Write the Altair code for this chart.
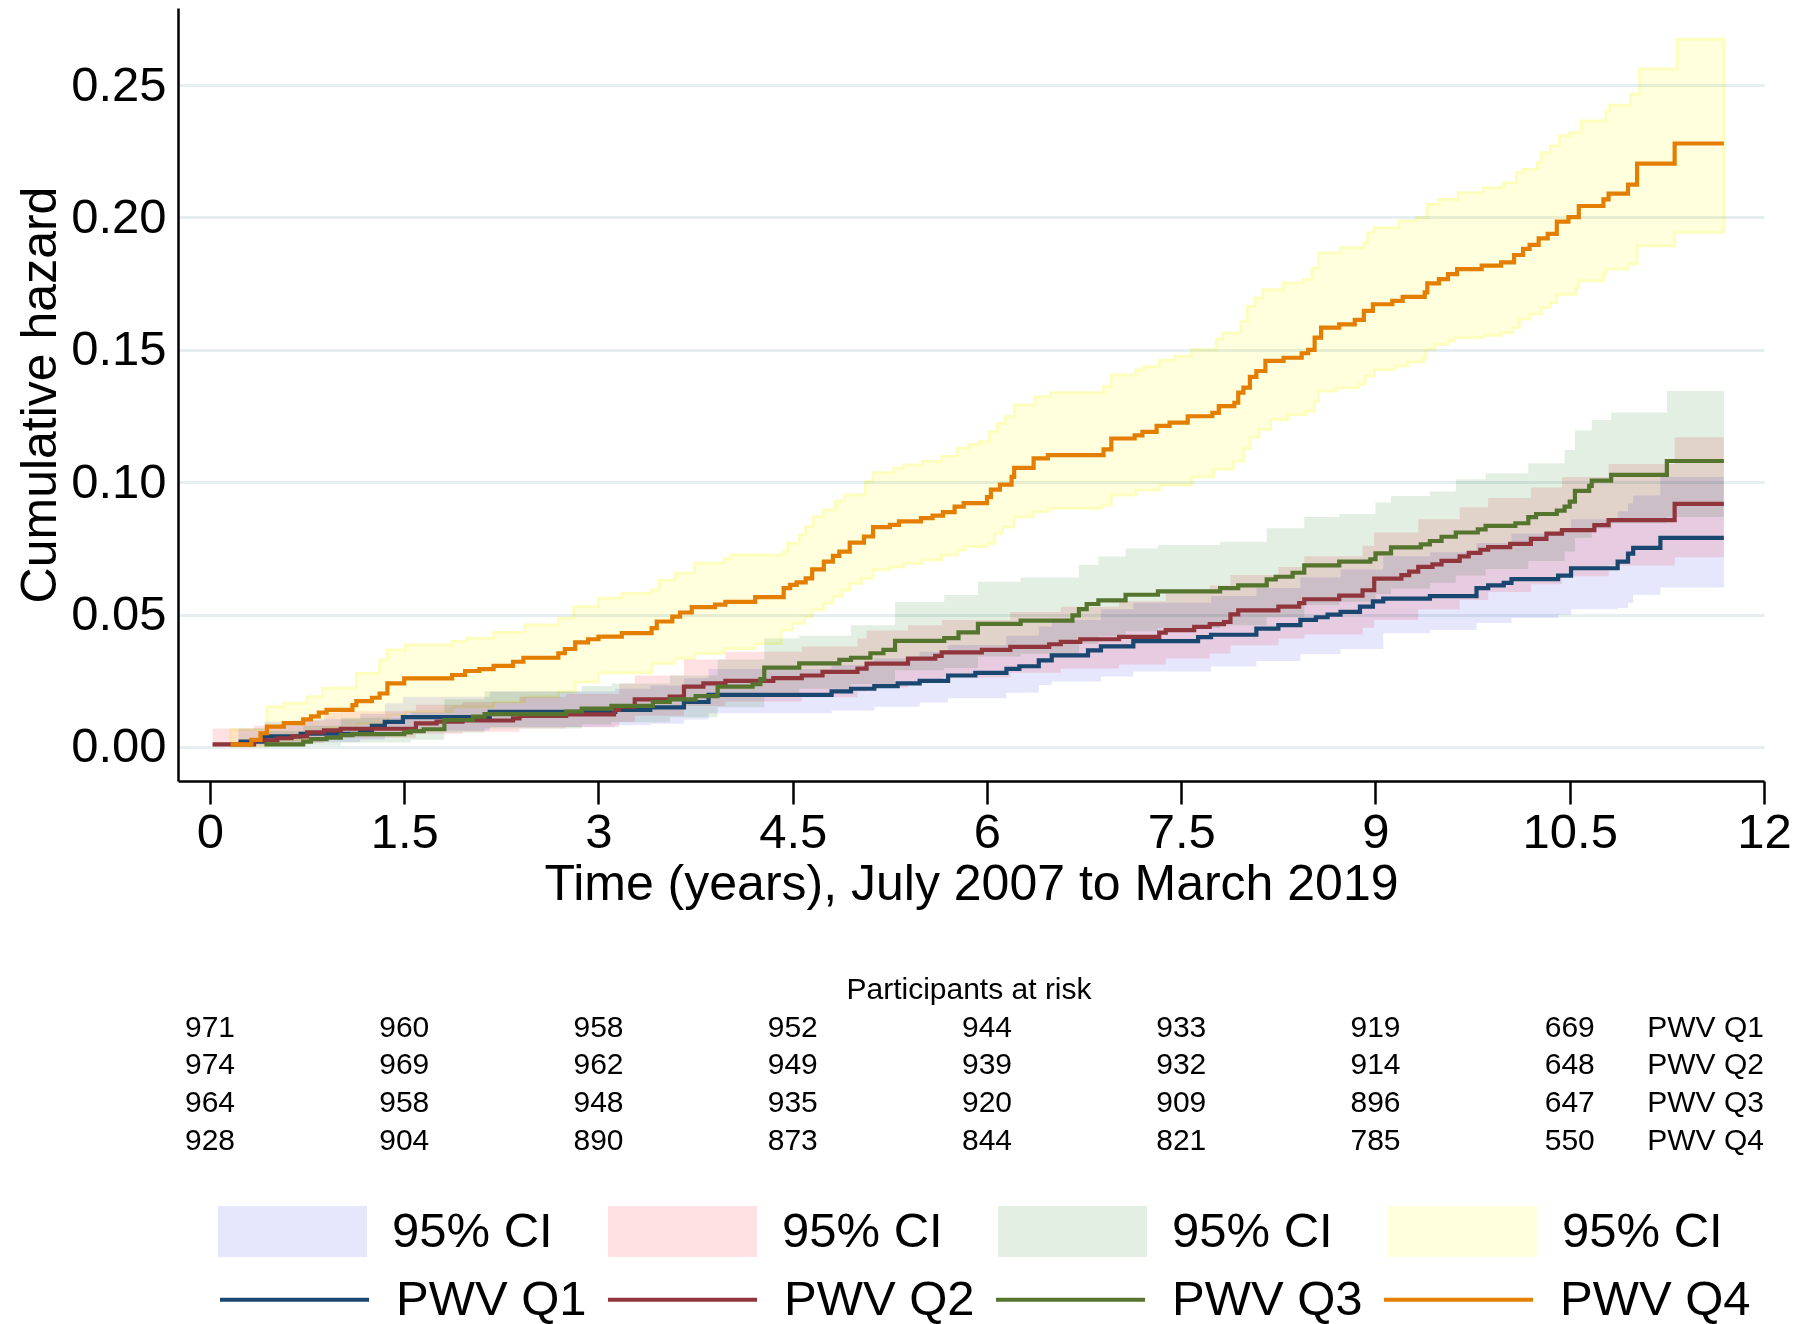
import altair as alt
import pandas as pd
import numpy as np

# ---------------- data ----------------
series_names = ["PWV Q1", "PWV Q2", "PWV Q3", "PWV Q4"]
ci_names = ["CI Q1", "CI Q2", "CI Q3", "CI Q4"]
line_colors = ["#1a476f", "#90353b", "#55752f", "#e37e00"]
fill_colors = ["#e6e6fc", "#ffe1e4", "#e2efe2", "#ffffde"]

x_ticks = [0, 1.5, 3, 4.5, 6, 7.5, 9, 10.5, 12]
y_ticks = [0, 0.05, 0.10, 0.15, 0.20, 0.25]

# cumulative hazard step functions (time in years, value)
q1_t = [0.22, 0.42, 0.7, 1.16, 1.25, 1.35, 1.49, 2.16, 3.13, 3.4,
        3.66, 3.85, 4.8, 4.95, 5.13, 5.31, 5.48, 5.7, 5.91, 6.15,
        6.25, 6.4, 6.5, 6.78, 6.88, 7.13, 7.63, 7.73, 8.08, 8.25,
        8.42, 8.54, 8.63, 8.73, 8.88, 8.98, 9.06, 9.42, 9.78, 9.87,
        9.99, 10.05, 10.41, 10.51, 10.87, 10.95, 10.99, 11.2, 11.69]
q1_h = [0.002, 0.004, 0.005, 0.0065, 0.008, 0.0095, 0.0113, 0.0133, 0.014, 0.015,
        0.017, 0.0197, 0.021, 0.022, 0.023, 0.024, 0.025, 0.027, 0.028, 0.0295,
        0.0305, 0.0327, 0.0346, 0.0365, 0.038, 0.040, 0.0415, 0.0424, 0.0447, 0.046,
        0.048, 0.049, 0.050, 0.051, 0.053, 0.055, 0.056, 0.057, 0.060, 0.061,
        0.062, 0.0634, 0.0647, 0.0675, 0.070, 0.073, 0.0752, 0.079, 0.079]

q2_t = [0.02, 0.34, 0.52, 0.63, 0.75, 0.88, 1.01, 1.59, 1.75, 1.95,
        2.34, 2.39, 2.75, 3.12, 3.16, 3.28, 3.55, 3.66, 3.81, 3.98,
        4.35, 4.57, 4.73, 5.0, 5.07, 5.39, 5.6, 5.65, 5.96, 6.18,
        6.48, 6.57, 6.72, 7.02, 7.33, 7.38, 7.6, 7.72, 7.83, 7.88,
        7.94, 8.25, 8.41, 8.45, 8.72, 8.9, 8.99, 9.2, 9.26, 9.33,
        9.44, 9.51, 9.65, 9.72, 9.81, 9.87, 10.04, 10.2, 10.32, 10.44,
        10.69, 10.8, 11.31, 11.69]
q2_h = [0.001, 0.0025, 0.0033, 0.004, 0.0055, 0.0063, 0.0069, 0.0089, 0.0096, 0.010,
        0.0108, 0.0117, 0.0123, 0.014, 0.0152, 0.018, 0.019, 0.0228, 0.024, 0.025,
        0.026, 0.027, 0.0284, 0.0296, 0.0315, 0.0334, 0.0344, 0.0357, 0.0367, 0.0378,
        0.0388, 0.0397, 0.0407, 0.0416, 0.0432, 0.0441, 0.0454, 0.0464, 0.0472, 0.0501,
        0.0516, 0.053, 0.0543, 0.0558, 0.0572, 0.0592, 0.0636, 0.0649, 0.0662, 0.068,
        0.069, 0.0703, 0.072, 0.0733, 0.0745, 0.0755, 0.0767, 0.0786, 0.0806, 0.0819,
        0.0838, 0.0857, 0.0918, 0.0918]

q3_t = [0.42, 0.72, 0.78, 0.9, 1.01, 1.1, 1.5, 1.55, 1.65, 1.81,
        2.03, 2.12, 2.75, 2.87, 3.1, 3.42, 3.55, 3.75, 3.92, 4.19,
        4.25, 4.28, 4.55, 4.86, 4.95, 5.1, 5.2, 5.29, 5.67, 5.78,
        5.93, 6.26, 6.66, 6.71, 6.77, 6.86, 7.07, 7.32, 7.8, 7.94,
        8.16, 8.23, 8.36, 8.45, 8.72, 8.96, 9.0, 9.12, 9.35, 9.42,
        9.51, 9.62, 9.79, 9.85, 10.08, 10.18, 10.24, 10.4, 10.46, 10.5,
        10.54, 10.65, 10.67, 10.82, 11.25, 11.69]
q3_h = [0.001, 0.002, 0.003, 0.0035, 0.0045, 0.0049, 0.0055, 0.006, 0.0067, 0.0102,
        0.0115, 0.0124, 0.0134, 0.0145, 0.0155, 0.017, 0.018, 0.0192, 0.0228, 0.0237,
        0.0256, 0.030, 0.0316, 0.0329, 0.0337, 0.0354, 0.0367, 0.0401, 0.0411, 0.0433,
        0.0465, 0.0477, 0.0497, 0.0521, 0.054, 0.0554, 0.0575, 0.0588, 0.060, 0.061,
        0.0633, 0.0643, 0.0658, 0.0686, 0.070, 0.0709, 0.0731, 0.0754, 0.0765, 0.0778,
        0.0794, 0.081, 0.0822, 0.0835, 0.0845, 0.0868, 0.088, 0.0893, 0.0908, 0.0927,
        0.0967, 0.0986, 0.1006, 0.1028, 0.108, 0.108]

q4_t = [0.16, 0.32, 0.39, 0.44, 0.57, 0.72, 0.78, 0.84, 0.9, 1.1,
        1.13, 1.25, 1.31, 1.37, 1.5, 1.87, 1.97, 2.08, 2.19, 2.34,
        2.42, 2.69, 2.74, 2.82, 2.92, 3.0, 3.18, 3.41, 3.45, 3.57,
        3.63, 3.72, 3.9, 3.98, 4.21, 4.43, 4.48, 4.53, 4.6, 4.65,
        4.74, 4.81, 4.86, 4.94, 5.05, 5.12, 5.25, 5.32, 5.49, 5.58,
        5.66, 5.75, 5.82, 6.0, 6.03, 6.1, 6.19, 6.21, 6.36, 6.47,
        6.9, 6.96, 7.14, 7.2, 7.31, 7.41, 7.55, 7.74, 7.79, 7.91,
        7.94, 7.98, 8.03, 8.08, 8.15, 8.29, 8.43, 8.48, 8.53, 8.58,
        8.72, 8.84, 8.91, 8.98, 9.13, 9.21, 9.38, 9.4, 9.49, 9.56,
        9.63, 9.82, 9.97, 10.07, 10.14, 10.19, 10.26, 10.33, 10.4, 10.49,
        10.57, 10.76, 10.8, 10.95, 11.02, 11.31, 11.69]
q4_h = [0.001, 0.0027, 0.0052, 0.0077, 0.009, 0.0104, 0.0116, 0.013, 0.014, 0.0158,
        0.0173, 0.0186, 0.0202, 0.024, 0.0259, 0.0272, 0.0287, 0.0294, 0.0306, 0.0322,
        0.0337, 0.0354, 0.037, 0.0395, 0.0407, 0.0417, 0.043, 0.0449, 0.0474, 0.0492,
        0.0508, 0.0528, 0.0538, 0.0548, 0.0566, 0.060, 0.0612, 0.0622, 0.0637, 0.0671,
        0.070, 0.0722, 0.0738, 0.0772, 0.0795, 0.083, 0.0839, 0.0852, 0.0864, 0.0874,
        0.0887, 0.0908, 0.0921, 0.0944, 0.0972, 0.0991, 0.102, 0.1054, 0.109, 0.1102,
        0.1124, 0.1165, 0.1177, 0.119, 0.1213, 0.1225, 0.1249, 0.1262, 0.1287, 0.130,
        0.1338, 0.1357, 0.1398, 0.142, 0.1458, 0.147, 0.1487, 0.150, 0.1546, 0.1584,
        0.1596, 0.1613, 0.1647, 0.1672, 0.1685, 0.170, 0.1717, 0.1751, 0.1767, 0.1786,
        0.1805, 0.1818, 0.183, 0.1858, 0.1881, 0.1896, 0.1921, 0.1938, 0.1984, 0.2001,
        0.2043, 0.2068, 0.209, 0.2124, 0.2203, 0.2279, 0.2279]

# 95% CI bounds (step functions)
q1c_t = [0.22, 0.42, 0.7, 1.16, 1.35, 1.49, 2.16, 3.13, 3.4, 3.66,
         3.85, 4.8, 5.13, 5.48, 5.7, 6.15, 6.4, 6.5, 6.88, 7.13,
         7.73, 8.08, 8.42, 8.73, 9.06, 9.42, 9.78, 10.05, 10.41, 10.51,
         10.87, 10.95, 10.99, 11.2, 11.69]
q1_lo = [0.0003, 0.0012, 0.0018, 0.0028, 0.0048, 0.0062, 0.0076, 0.0082, 0.0088, 0.0104,
         0.0127, 0.0138, 0.0152, 0.0168, 0.0184, 0.0205, 0.0234, 0.0247, 0.0266, 0.0285,
         0.0304, 0.0325, 0.0350, 0.0370, 0.0430, 0.0442, 0.0468, 0.0487, 0.0499, 0.0520,
         0.0525, 0.0544, 0.0575, 0.0602, 0.0602]
q1_hi = [0.007, 0.0095, 0.0105, 0.0125, 0.0165, 0.019, 0.021, 0.022, 0.0232, 0.026,
         0.0295, 0.031, 0.0335, 0.036, 0.0385, 0.042, 0.0455, 0.048, 0.052, 0.0545,
         0.057, 0.060, 0.064, 0.067, 0.072, 0.0735, 0.077, 0.0805, 0.082, 0.086,
         0.089, 0.092, 0.095, 0.102, 0.102]

q2c_t = [0.02, 0.34, 0.63, 0.88, 1.01, 1.59, 1.95, 2.39, 2.75, 3.16,
         3.28, 3.66, 3.98, 4.57, 5.0, 5.07, 5.39, 5.65, 6.18, 6.57,
         7.02, 7.38, 7.72, 7.88, 8.25, 8.45, 8.9, 8.99, 9.33, 9.65,
         9.87, 10.2, 10.44, 10.8, 11.31, 11.69]
q2_lo = [0.0, 0.0006, 0.0015, 0.003, 0.0035, 0.005, 0.0058, 0.007, 0.0075, 0.0095,
         0.0118, 0.0155, 0.0172, 0.0188, 0.021, 0.0225, 0.0242, 0.0262, 0.028, 0.0296,
         0.0312, 0.0334, 0.0353, 0.0384, 0.041, 0.0425, 0.045, 0.048, 0.052, 0.0555,
         0.0585, 0.0615, 0.0645, 0.0685, 0.0717, 0.0717]
q2_hi = [0.007, 0.008, 0.010, 0.013, 0.0135, 0.016, 0.017, 0.019, 0.020, 0.024,
         0.027, 0.033, 0.036, 0.038, 0.041, 0.044, 0.046, 0.048, 0.051, 0.053,
         0.055, 0.058, 0.061, 0.065, 0.068, 0.072, 0.076, 0.081, 0.086, 0.0905,
         0.094, 0.098, 0.102, 0.1069, 0.117, 0.117]

q3c_t = [0.42, 0.72, 1.01, 1.55, 1.81, 2.12, 2.87, 3.1, 3.55, 3.92,
         4.28, 4.55, 4.95, 5.29, 5.67, 5.93, 6.26, 6.71, 6.86, 7.07,
         7.32, 7.8, 8.16, 8.45, 8.72, 9.0, 9.12, 9.42, 9.62, 9.85,
         10.18, 10.46, 10.54, 10.67, 10.82, 11.25, 11.69]
q3_lo = [0.0002, 0.0005, 0.0017, 0.0027, 0.0055, 0.007, 0.0085, 0.0093, 0.0112, 0.015,
         0.0205, 0.022, 0.0238, 0.029, 0.0298, 0.0342, 0.0352, 0.039, 0.0418, 0.0437,
         0.0449, 0.046, 0.049, 0.0536, 0.0549, 0.0578, 0.0599, 0.062, 0.0648, 0.0672,
         0.0702, 0.0738, 0.079, 0.0825, 0.0845, 0.0869, 0.0869]
q3_hi = [0.006, 0.008, 0.011, 0.013, 0.018, 0.021, 0.023, 0.024, 0.027, 0.033,
         0.041, 0.042, 0.046, 0.0549, 0.0574, 0.0624, 0.064, 0.0687, 0.0719, 0.075,
         0.0763, 0.0775, 0.0826, 0.0869, 0.088, 0.0923, 0.0948, 0.0965, 0.1011, 0.1034,
         0.1072, 0.1122, 0.1195, 0.1235, 0.1263, 0.1344, 0.1344]

q4_lo_t = [0.16, 0.44, 0.75, 0.89, 1.13, 1.37, 1.51, 1.87, 2.19, 2.43,
           2.69, 2.82, 3.0, 3.41, 3.59, 3.74, 3.97, 4.21, 4.41, 4.5,
           4.59, 4.65, 4.74, 4.81, 4.88, 4.94, 5.03, 5.12, 5.25, 5.36,
           5.5, 5.65, 5.77, 5.83, 6.0, 6.06, 6.12, 6.21, 6.36, 6.47,
           6.89, 6.96, 7.15, 7.33, 7.58, 7.75, 7.9, 7.98, 8.03, 8.1,
           8.19, 8.32, 8.46, 8.53, 8.56, 8.7, 8.87, 8.92, 8.99, 9.15,
           9.25, 9.37, 9.39, 9.46, 9.56, 9.61, 9.83, 9.97, 10.06, 10.11,
           10.19, 10.28, 10.35, 10.4, 10.55, 10.57, 10.76, 10.78, 10.95, 11.02,
           11.31, 11.69]
q4_lo = [0.0004, 0.0026, 0.0052, 0.007, 0.0089, 0.0121, 0.0134, 0.0152, 0.0171, 0.019,
         0.0209, 0.0245, 0.028, 0.0316, 0.0335, 0.0354, 0.0372, 0.0391, 0.0442, 0.0467,
         0.0492, 0.0518, 0.0543, 0.0568, 0.0593, 0.0618, 0.0637, 0.0669, 0.0681, 0.0694,
         0.0707, 0.0725, 0.0744, 0.0757, 0.0769, 0.0807, 0.0832, 0.087, 0.0889, 0.0902,
         0.0914, 0.0952, 0.0971, 0.099, 0.1021, 0.105, 0.108, 0.1128, 0.117, 0.120,
         0.1237, 0.1256, 0.1268, 0.1306, 0.1344, 0.1357, 0.137, 0.1401, 0.1426, 0.1439,
         0.1454, 0.147, 0.1502, 0.1521, 0.1534, 0.1546, 0.1555, 0.1565, 0.1584, 0.1616,
         0.1635, 0.166, 0.1679, 0.171, 0.1735, 0.1761, 0.1786, 0.1805, 0.1824, 0.1893,
         0.1944, 0.1944]
q4_hi_t = [0.16, 0.44, 0.57, 0.75, 0.87, 1.13, 1.31, 1.37, 1.51, 1.87,
           1.98, 2.19, 2.43, 2.69, 2.81, 3.0, 3.18, 3.41, 3.47, 3.59,
           3.74, 3.97, 4.02, 4.43, 4.46, 4.55, 4.6, 4.66, 4.74, 4.83,
           4.9, 5.06, 5.12, 5.28, 5.36, 5.5, 5.65, 5.77, 5.86, 5.94,
           6.02, 6.08, 6.14, 6.21, 6.37, 6.49, 6.9, 6.96, 7.15, 7.21,
           7.33, 7.45, 7.58, 7.77, 7.82, 7.96, 8.01, 8.07, 8.13, 8.29,
           8.44, 8.51, 8.56, 8.73, 8.91, 8.94, 8.99, 9.18, 9.32, 9.4,
           9.49, 9.64, 9.83, 9.99, 10.09, 10.14, 10.25, 10.28, 10.35, 10.42,
           10.5, 10.59, 10.78, 10.81, 10.97, 11.04, 11.33, 11.69]
q4_hi = [0.0065, 0.0152, 0.0165, 0.019, 0.0222, 0.0278, 0.0329, 0.0366, 0.0385, 0.0398,
         0.041, 0.0432, 0.0461, 0.0486, 0.053, 0.0562, 0.058, 0.0593, 0.063, 0.0656,
         0.0694, 0.0712, 0.0725, 0.0738, 0.0769, 0.0801, 0.0832, 0.087, 0.0895, 0.0927,
         0.0952, 0.1002, 0.1036, 0.1053, 0.1065, 0.1078, 0.1097, 0.1128, 0.1141, 0.1153,
         0.1191, 0.1222, 0.1248, 0.1292, 0.1323, 0.1338, 0.136, 0.1405, 0.1424, 0.1436,
         0.1461, 0.1476, 0.150, 0.154, 0.1563, 0.1607, 0.1664, 0.1696, 0.1727, 0.1752,
         0.1765, 0.1809, 0.1866, 0.1885, 0.1904, 0.1942, 0.1961, 0.1986, 0.1999, 0.2049,
         0.2068, 0.2093, 0.2112, 0.2131, 0.2169, 0.2181, 0.2206, 0.2244, 0.227, 0.2308,
         0.232, 0.2364, 0.2402, 0.2424, 0.2465, 0.256, 0.2673, 0.2673]

# participants at risk
risk_times = [0, 1.5, 3, 4.5, 6, 7.5, 9, 10.5]
risk_q1 = [971, 960, 958, 952, 944, 933, 919, 669]
risk_q2 = [974, 969, 962, 949, 939, 932, 914, 648]
risk_q3 = [964, 958, 948, 935, 920, 909, 896, 647]
risk_q4 = [928, 904, 890, 873, 844, 821, 785, 550]

# ---------------- tables ----------------
est = [(q1_t, q1_h), (q2_t, q2_h), (q3_t, q3_h), (q4_t, q4_h)]
cis = [(q1c_t, q1_lo, q1c_t, q1_hi), (q2c_t, q2_lo, q2c_t, q2_hi),
       (q3c_t, q3_lo, q3c_t, q3_hi), (q4_lo_t, q4_lo, q4_hi_t, q4_hi)]
risks = [risk_q1, risk_q2, risk_q3, risk_q4]

rows = []
for name, (t, h) in zip(series_names, est):
    assert len(t) == len(h), name
    rows += [{"t": a, "h": b, "series": name} for a, b in zip(t, h)]
lines_df = pd.DataFrame(rows)


def step_value(ts, vs, x):
    i = int(np.searchsorted(np.asarray(ts), x, side="right")) - 1
    return vs[max(i, 0)]


rows = []
for name, (lt, lv, ht, hv) in zip(ci_names, cis):
    assert len(lt) == len(lv) and len(ht) == len(hv), name
    for x in sorted(set(lt) | set(ht)):
        rows.append({"t": x, "lo": step_value(lt, lv, x), "hi": step_value(ht, hv, x), "ci": name})
area_df = pd.DataFrame(rows)

risk_df = pd.DataFrame([{"t": t, "n": str(n), "series": name}
                        for name, r in zip(series_names, risks) for t, n in zip(risk_times, r)])
lab_df = pd.DataFrame({"t": [12] * 4, "series": series_names})

# ---------------- chart ----------------
W, H = 1586, 773
FONT = "Liberation Sans"

x_scale = alt.Scale(domain=[-0.247, 12], nice=False, zero=False)
y_scale = alt.Scale(domain=[-0.01284, 0.27908], nice=False, zero=False)

x_enc = alt.X("t:Q", scale=x_scale,
              axis=alt.Axis(values=x_ticks, format=".3~g", grid=False,
                            title="Time (years), July 2007 to March 2019",
                            domainColor="black", domainWidth=2.5,
                            tickColor="black", tickWidth=2.5, tickSize=23,
                            labelFontSize=49, labelPadding=4, labelColor="black",
                            labelFlush=False, labelOverlap=False,
                            titleFontSize=50, titleFontWeight="normal", titleColor="black",
                            titleY=103, titleBaseline="middle"))
y_axis = alt.Axis(values=y_ticks, format=".2f", grid=True, gridColor="#e6eef1", gridWidth=3,
                  title="Cumulative hazard", domainColor="black", domainWidth=2.5,
                  ticks=False, tickSize=0, labelFontSize=49, labelPadding=12,
                  labelColor="black", labelFlush=False, labelBaseline="middle",
                  titleFontSize=50, titleFontWeight="normal", titleColor="black",
                  titleX=-138, titleY=386.5, titleAngle=270, titleBaseline="middle",
                  titleAlign="center")

fill_enc = alt.Fill("ci:N", scale=alt.Scale(domain=ci_names, range=fill_colors),
                    legend=alt.Legend(title=None, orient="none", legendX=40, legendY=1149,
                                      direction="horizontal", columns=4,
                                      symbolType="M-1,-0.342H1V0.342H-1Z", symbolSize=22201,
                                      symbolStrokeWidth=0, symbolOpacity=1,
                                      labelFontSize=49, labelOffset=25, labelColor="black",
                                      columnPadding=55, labelExpr="'95% CI'", labelLimit=400,
                                      padding=0))
stroke_enc = alt.Stroke("series:N", scale=alt.Scale(domain=series_names, range=line_colors),
                        legend=alt.Legend(title=None, orient="none", legendX=40, legendY=1215,
                                          direction="horizontal", columns=4,
                                          symbolType="stroke", symbolSize=22201,
                                          symbolStrokeWidth=4, labelFontSize=49,
                                          labelOffset=25, labelColor="black",
                                          columnPadding=13, labelLimit=400, padding=0))

area13 = alt.Chart(area_df).transform_filter(alt.datum.ci != "CI Q4").mark_area(
    interpolate="step-after", blend="multiply", opacity=1).encode(
    x=x_enc, y=alt.Y("lo:Q", scale=y_scale, axis=y_axis), y2="hi:Q", fill=fill_enc)
area4 = alt.Chart(area_df).transform_filter(alt.datum.ci == "CI Q4").mark_area(
    interpolate="step-after", blend="multiply", opacity=1,
    stroke="#fdfdbe", strokeWidth=3).encode(
    x=x_enc, y=alt.Y("lo:Q", scale=y_scale, axis=y_axis), y2="hi:Q", fill=fill_enc)
lines = alt.Chart(lines_df).mark_line(interpolate="step-after", strokeWidth=4.2).encode(
    x=x_enc, y=alt.Y("h:Q", scale=y_scale, axis=y_axis), stroke=stroke_enc)

row_y = [1019.5, 1057.3, 1094.5, 1132.5]
text_layers = []
for name, yy in zip(series_names, row_y):
    text_layers.append(
        alt.Chart(risk_df).transform_filter(alt.datum.series == name).mark_text(
            font=FONT, fontSize=30, baseline="middle", align="center", color="black").encode(
            x=x_enc, y=alt.value(yy), text="n:N"))
    text_layers.append(
        alt.Chart(lab_df).transform_filter(alt.datum.series == name).mark_text(
            font=FONT, fontSize=30, baseline="middle", align="right", color="black").encode(
            x=x_enc, y=alt.value(yy), text="series:N"))

risk_title = alt.Chart(pd.DataFrame({"label": ["Participants at risk"]})).mark_text(
    font=FONT, fontSize=30, baseline="middle", align="center", color="black").encode(
    x=alt.value(W / 2 - 2), y=alt.value(981.6), text="label:N")

chart = alt.layer(area13, area4, lines, *text_layers, risk_title).properties(
    width=W, height=H,
    padding={"left": 170, "top": 0, "right": 28, "bottom": 543},
    autosize=alt.AutoSizeParams(type="none"),
).configure(font=FONT).configure_view(stroke=None)

chart.save("out.html", embed_options={"renderer": "svg", "actions": False})
